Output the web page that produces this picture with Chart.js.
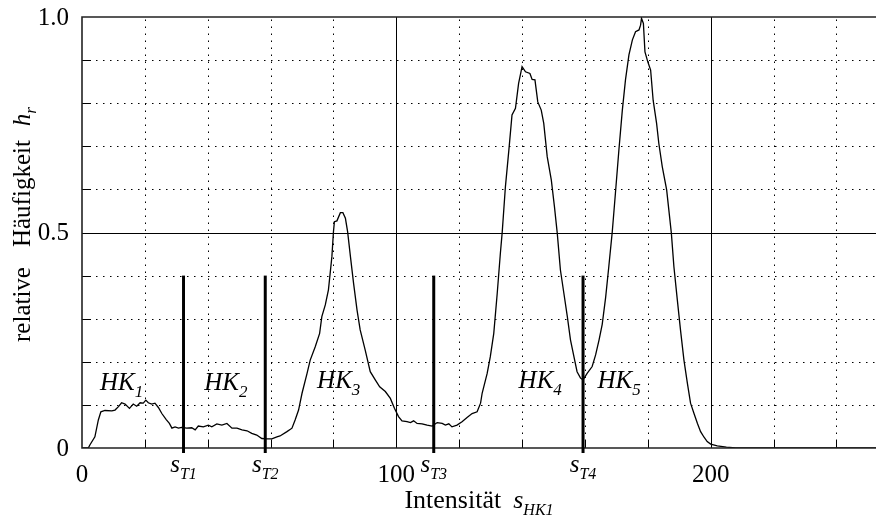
<!DOCTYPE html>
<html lang="de">
<head>
  <meta charset="UTF-8">
  <title>Histogramm HK1</title>
  <script src="https://cdn.jsdelivr.net/npm/chart.js"></script>
  <style>
    html, body { margin: 0; padding: 0; background: #fff; overflow: hidden; }
    canvas { display: block; }
  </style>
</head>
<body>
  <canvas id="histChart" width="876" height="517"></canvas>
  <script>
    // Intensität (x) und relative Häufigkeit (y)
    const intensity = [0, 2, 2.5, 4.1, 5.2, 6, 7.3, 9.5, 10.5, 11.6, 12.6, 13.7, 15.1, 16.3, 17.4, 18.5, 19.5, 20.3, 21.1, 22.2, 23.2, 24.3, 25.4, 26.8, 27.8, 28.6, 29.6, 30.7, 31.7, 33.3, 34.9, 36, 37, 38.6, 40.2, 41.3, 42.9, 44.5, 46.1, 47.7, 49.3, 50.9, 52.5, 54, 55.6, 57.2, 58.8, 60.4, 62, 63, 65.2, 66.8, 67.8, 68.9, 70, 71.6, 72.6, 74.2, 75.6, 76.3, 77.4, 78.4, 79.5, 80, 80.3, 81.1, 82.2, 83, 83.8, 84.5, 85.4, 86.4, 87.5, 88.5, 90.1, 91.7, 93.3, 94.7, 96.5, 98.1, 99.4, 100.7, 101.8, 103.4, 104.5, 105.5, 106.6, 108.2, 109.8, 111.4, 113, 114.6, 115.6, 116.7, 117.7, 119.3, 120.9, 122.5, 124.1, 125.7, 126.8, 127.3, 128.9, 129.9, 131, 132.1, 133.1, 133.7, 134.7, 135.8, 136.8, 137.9, 138.9, 140, 141.1, 142.5, 143.2, 144.1, 145, 146.1, 146.9, 148, 149.3, 150.3, 151.2, 152.2, 153.3, 154.4, 155.4, 156.5, 157.5, 158.6, 159.4, 160.7, 162.3, 163.4, 164.5, 165.5, 166.6, 167.6, 168.7, 169.7, 170.8, 171.9, 172.9, 174, 175.1, 176.1, 177.2, 177.7, 178, 178.6, 179.1, 180, 180.9, 181.7, 182.8, 183.5, 184.6, 186, 186.7, 187.5, 188.3, 189.4, 190.4, 191.5, 192.6, 193.6, 194.7, 195.8, 196.8, 197.9, 198.9, 200, 202.1, 205, 208, 255];
    const frequency = [0, 0, 0.007, 0.026, 0.065, 0.084, 0.087, 0.086, 0.088, 0.096, 0.105, 0.102, 0.092, 0.102, 0.097, 0.105, 0.104, 0.111, 0.105, 0.102, 0.104, 0.094, 0.080, 0.066, 0.057, 0.046, 0.049, 0.046, 0.048, 0.046, 0.047, 0.042, 0.051, 0.049, 0.053, 0.049, 0.056, 0.053, 0.057, 0.046, 0.046, 0.042, 0.040, 0.034, 0.030, 0.022, 0.021, 0.021, 0.026, 0.028, 0.038, 0.046, 0.065, 0.088, 0.127, 0.173, 0.204, 0.235, 0.266, 0.305, 0.332, 0.367, 0.444, 0.502, 0.525, 0.527, 0.546, 0.546, 0.533, 0.502, 0.444, 0.382, 0.320, 0.274, 0.227, 0.177, 0.158, 0.142, 0.131, 0.115, 0.092, 0.073, 0.063, 0.061, 0.059, 0.063, 0.057, 0.056, 0.053, 0.051, 0.059, 0.057, 0.053, 0.056, 0.049, 0.053, 0.061, 0.071, 0.080, 0.084, 0.104, 0.127, 0.173, 0.212, 0.266, 0.359, 0.452, 0.502, 0.606, 0.691, 0.773, 0.788, 0.846, 0.885, 0.873, 0.869, 0.855, 0.854, 0.803, 0.784, 0.753, 0.676, 0.622, 0.560, 0.498, 0.413, 0.359, 0.305, 0.251, 0.212, 0.177, 0.162, 0.158, 0.173, 0.189, 0.216, 0.251, 0.287, 0.350, 0.421, 0.502, 0.591, 0.691, 0.784, 0.854, 0.912, 0.947, 0.966, 0.970, 0.981, 0.997, 0.985, 0.919, 0.896, 0.877, 0.807, 0.753, 0.707, 0.653, 0.599, 0.552, 0.498, 0.421, 0.343, 0.274, 0.204, 0.150, 0.104, 0.080, 0.057, 0.038, 0.025, 0.015, 0.009, 0.005, 0.002, 0, 0];

    const xTicks = [0, 100, 200];
    const yTicks = [0, 0.5, 1.0];
    const yTickText = ['0', '0.5', '1.0'];

    // Schwellen s_T1..s_T4
    const thresholds = [32.3, 58.3, 111.9, 159.4];
    const thresholdNames = ['T1', 'T2', 'T3', 'T4'];

    // Klassen HK1..HK5 (linker Rand des Textes, Grundlinie)
    const classNames = ['1', '2', '3', '4', '5'];
    const classX = [5.7, 38.9, 74.8, 138.9, 164];
    const classY = [0.135, 0.135, 0.139, 0.139, 0.139];

    const serif = "'Liberation Serif', 'Times New Roman', serif";
    const F = s => s + 'px ' + serif;
    const FI = s => 'italic ' + s + 'px ' + serif;

    function drawRun(ctx, pieces, x, y, align) {
      let total = 0;
      pieces.forEach(p => {
        ctx.font = p.font;
        p.w = ctx.measureText(p.text).width;
        total += p.w + (p.gap || 0);
      });
      let cx = align === 'center' ? x - total / 2 : align === 'right' ? x - total : x;
      ctx.textAlign = 'left';
      ctx.textBaseline = 'alphabetic';
      pieces.forEach(p => {
        ctx.font = p.font;
        ctx.fillText(p.text, cx, y + (p.dy || 0));
        cx += p.w + (p.gap || 0);
      });
    }

    const framePlugin = {
      id: 'frame',
      beforeDatasetsDraw(chart) {
        const { ctx, chartArea: a, scales: { x, y } } = chart;
        ctx.save();
        ctx.strokeStyle = '#000';
        ctx.lineWidth = 1;
        // gepunktetes Gitter
        ctx.setLineDash([1.5, 5.5]);
        for (let v = 20; v <= 240; v += 20) {
          if (v % 100 === 0) continue;
          const px = Math.round(x.getPixelForValue(v)) + 0.5;
          ctx.beginPath(); ctx.moveTo(px, a.bottom); ctx.lineTo(px, a.top); ctx.stroke();
        }
        for (let i = 1; i < 10; i++) {
          if (i === 5) continue;
          const py = Math.round(y.getPixelForValue(i / 10)) + 0.5;
          ctx.beginPath(); ctx.moveTo(a.left, py); ctx.lineTo(a.right, py); ctx.stroke();
        }
        // durchgezogene Linien
        ctx.setLineDash([]);
        [100, 200].forEach(v => {
          const px = Math.round(x.getPixelForValue(v)) + 0.5;
          ctx.beginPath(); ctx.moveTo(px, a.bottom); ctx.lineTo(px, a.top); ctx.stroke();
        });
        const p5 = Math.round(y.getPixelForValue(0.5)) + 0.5;
        ctx.beginPath(); ctx.moveTo(a.left, p5); ctx.lineTo(a.right, p5); ctx.stroke();
        // kurze Striche nach innen
        for (let v = 20; v <= 240; v += 20) {
          const px = Math.round(x.getPixelForValue(v)) + 0.5;
          ctx.beginPath(); ctx.moveTo(px, a.bottom); ctx.lineTo(px, a.bottom - 7); ctx.stroke();
        }
        for (let i = 1; i < 10; i++) {
          const py = Math.round(y.getPixelForValue(i / 10)) + 0.5;
          ctx.beginPath(); ctx.moveTo(a.left, py); ctx.lineTo(a.left + 9, py); ctx.stroke();
        }
        ctx.restore();
      },
      afterDatasetsDraw(chart) {
        const { ctx, chartArea: a, scales: { x, y } } = chart;
        ctx.save();
        // Achsen
        ctx.strokeStyle = '#222';
        ctx.lineWidth = 1.6;
        ctx.beginPath();
        ctx.moveTo(a.right, a.top); ctx.lineTo(a.left, a.top);
        ctx.lineTo(a.left, a.bottom); ctx.lineTo(a.right, a.bottom);
        ctx.stroke();

        // Schwellen
        ctx.strokeStyle = '#000';
        ctx.lineWidth = 3;
        thresholds.forEach(t => {
          const px = x.getPixelForValue(t);
          ctx.beginPath();
          ctx.moveTo(px, y.getPixelForValue(0.4));
          ctx.lineTo(px, a.bottom + 5);
          ctx.stroke();
        });

        ctx.fillStyle = '#000';
        // Achsenbeschriftung
        xTicks.forEach(v => {
          drawRun(ctx, [{ text: String(v), font: F(25) }], x.getPixelForValue(v), a.bottom + 34, 'center');
        });
        yTicks.forEach((v, i) => {
          ctx.font = F(25);
          ctx.textAlign = 'right';
          ctx.textBaseline = 'middle';
          ctx.fillText(yTickText[i], a.left - 13, y.getPixelForValue(v) + 1);
        });
        thresholds.forEach((t, i) => {
          drawRun(ctx, [
            { text: 's', font: FI(25) },
            { text: thresholdNames[i], font: FI(16), dy: 7 }
          ], x.getPixelForValue(t), a.bottom + 24, 'center');
        });
        classNames.forEach((n, i) => {
          drawRun(ctx, [
            { text: 'HK', font: FI(25) },
            { text: n, font: FI(17), dy: 7 }
          ], x.getPixelForValue(classX[i]), y.getPixelForValue(classY[i]), 'left');
        });

        // Achsentitel
        drawRun(ctx, [
          { text: 'Intensität', font: F(26), gap: 12 },
          { text: 's', font: FI(26) },
          { text: 'HK1', font: FI(16), dy: 7 }
        ], (a.left + a.right) / 2, a.bottom + 60, 'center');

        ctx.save();
        ctx.translate(30, (a.top + a.bottom) / 2 - 8);
        ctx.rotate(-Math.PI / 2);
        drawRun(ctx, [
          { text: 'relative', font: F(25), gap: 20 },
          { text: 'Häufigkeit', font: F(25), gap: 14 },
          { text: 'h', font: FI(25) },
          { text: 'r', font: FI(17), dy: 6 }
        ], 0, 0, 'center');
        ctx.restore();
        ctx.restore();
      }
    };

    const points = intensity.map((v, i) => ({ x: v, y: frequency[i] }));

    new Chart(document.getElementById('histChart').getContext('2d'), {
      type: 'scatter',
      data: {
        datasets: [{
          label: 'h_r',
          data: points,
          showLine: true,
          borderColor: '#000',
          borderWidth: 1.3,
          pointRadius: 0,
          tension: 0,
          fill: false
        }]
      },
      options: {
        responsive: false,
        animation: false,
        devicePixelRatio: 1,
        layout: { padding: { left: 82, top: 17, right: 0, bottom: 69 } },
        plugins: { legend: { display: false }, tooltip: { enabled: false } },
        scales: {
          x: { type: 'linear', min: 0, max: 252.6, display: false },
          y: { type: 'linear', min: 0, max: 1, display: false }
        }
      },
      plugins: [framePlugin]
    });
  </script>
</body>
</html>
